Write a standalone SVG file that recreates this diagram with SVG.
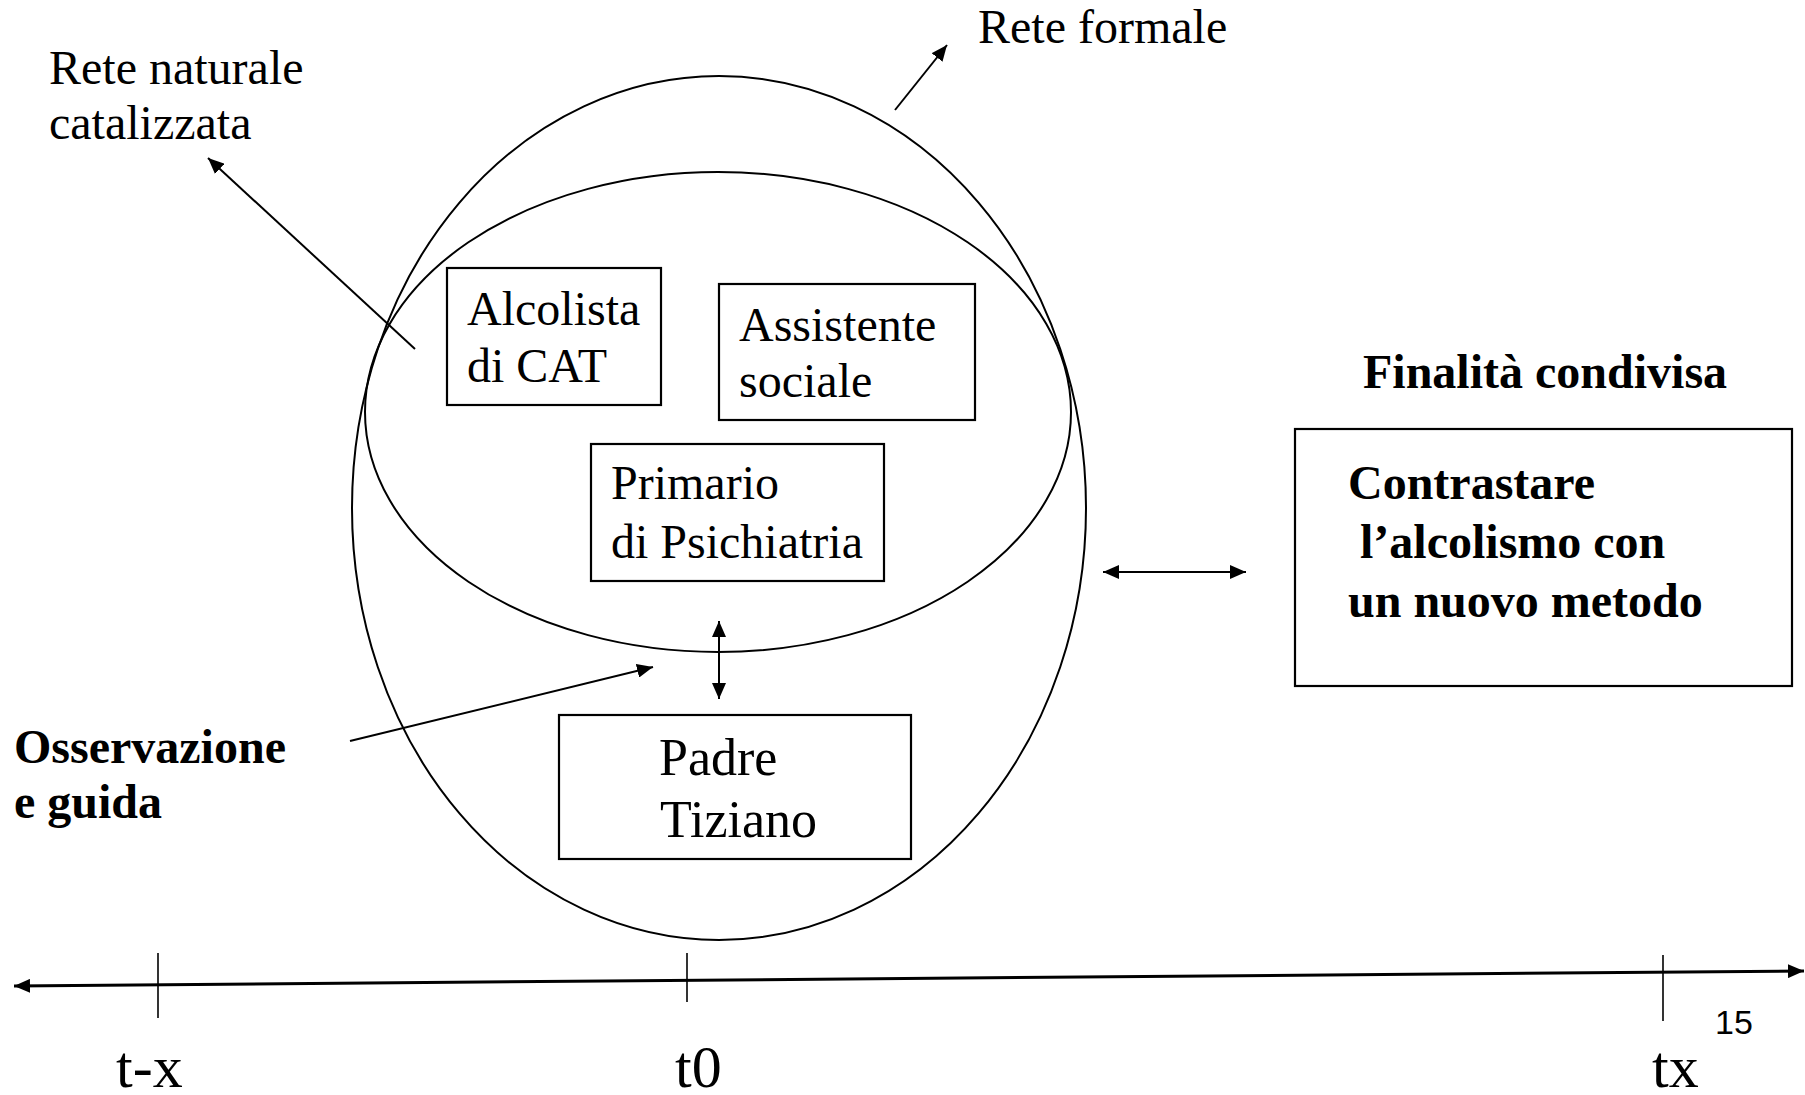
<svg xmlns="http://www.w3.org/2000/svg" width="1805" height="1095" viewBox="0 0 1805 1095">
<style>
.bg{fill:#fff}
.shape{fill:none;stroke:#000;stroke-width:2}
.box{fill:#fff;stroke:#000;stroke-width:2.2}
.ln{fill:none;stroke:#000;stroke-width:2}
.axis{fill:none;stroke:#000;stroke-width:3}
.tick{fill:none;stroke:#000;stroke-width:1.6}
.t{font-family:"Liberation Serif","Times New Roman",serif;font-size:48px;fill:#000}
.tb{font-family:"Liberation Serif","Times New Roman",serif;font-size:48px;font-weight:bold;fill:#000}
.tl{font-family:"Liberation Serif","Times New Roman",serif;font-size:60px;fill:#000}
.pn{font-family:"Liberation Sans",Arial,sans-serif;font-size:34px;fill:#000}
</style>
<defs>
<marker id="ah" viewBox="0 0 16 14" refX="16" refY="7" markerWidth="16" markerHeight="14" markerUnits="userSpaceOnUse" orient="auto-start-reverse">
<path d="M0,0 L16,7 L0,14 Z" fill="#000"/>
</marker>
</defs>
<rect class="bg" x="0" y="0" width="1805" height="1095"/>
<g id="rete-formale">
<ellipse class="shape" cx="719" cy="508" rx="367" ry="432"/>
</g>
<g id="rete-naturale">
<ellipse class="shape" cx="718" cy="412" rx="353" ry="240"/>
</g>
<g id="alcolista">
<rect class="box" x="447" y="268" width="214" height="137"/>
<text class="t" x="467" y="325">Alcolista</text>
<text class="t" x="467" y="382">di CAT</text>
</g>
<g id="assistente">
<rect class="box" x="719" y="284" width="256" height="136"/>
<text class="t" x="739" y="341">Assistente</text>
<text class="t" x="739" y="397">sociale</text>
</g>
<g id="primario">
<rect class="box" x="591" y="444" width="293" height="137"/>
<text class="t" x="611" y="499">Primario</text>
<text class="t" x="611" y="558">di Psichiatria</text>
</g>
<g id="padre">
<rect class="box" x="559" y="715" width="352" height="144"/>
<text class="t" x="659" y="775" style="font-size:52px">Padre</text>
<text class="t" x="660" y="837" style="font-size:52px">Tiziano</text>
</g>
<g id="finalita">
<rect class="box" x="1295" y="429" width="497" height="257"/>
<text class="t" x="1348" y="499" style="font-weight:bold">Contrastare</text>
<text class="t" x="1348" y="558" style="font-weight:bold" xml:space="preserve"> l’alcolismo con</text>
<text class="t" x="1348" y="617" style="font-weight:bold">un nuovo metodo</text>
</g>
<g id="labels">
<text class="t" x="49" y="84">Rete naturale</text>
<text class="t" x="49" y="139">catalizzata</text>
<text class="t" x="978" y="43">Rete formale</text>
<text class="tb" x="1363" y="388">Finalità condivisa</text>
<text class="tb" x="14" y="763">Osservazione</text>
<text class="tb" x="14" y="818">e guida</text>
<text class="tl" x="116" y="1087">t-x</text>
<text class="tl" x="675" y="1087">t0</text>
<text class="tl" x="1652" y="1087">tx</text>
<text class="pn" x="1715" y="1034">15</text>
</g>
<g id="connectors">
<line class="ln" x1="415" y1="349" x2="208" y2="158" marker-end="url(#ah)"/>
<line class="ln" x1="895" y1="110" x2="947" y2="45" marker-end="url(#ah)"/>
<line class="ln" x1="350" y1="741" x2="653" y2="667" marker-end="url(#ah)"/>
<line class="ln" x1="719" y1="621" x2="719" y2="699" marker-start="url(#ah)" marker-end="url(#ah)"/>
<line class="ln" x1="1103" y1="572" x2="1246" y2="572" marker-start="url(#ah)" marker-end="url(#ah)"/>
<line class="axis" x1="14" y1="986" x2="1804" y2="971" marker-start="url(#ah)" marker-end="url(#ah)"/>
<line class="tick" x1="158" y1="953" x2="158" y2="1018"/>
<line class="tick" x1="687" y1="953" x2="687" y2="1002"/>
<line class="tick" x1="1663" y1="955" x2="1663" y2="1021"/>
</g>
</svg>
